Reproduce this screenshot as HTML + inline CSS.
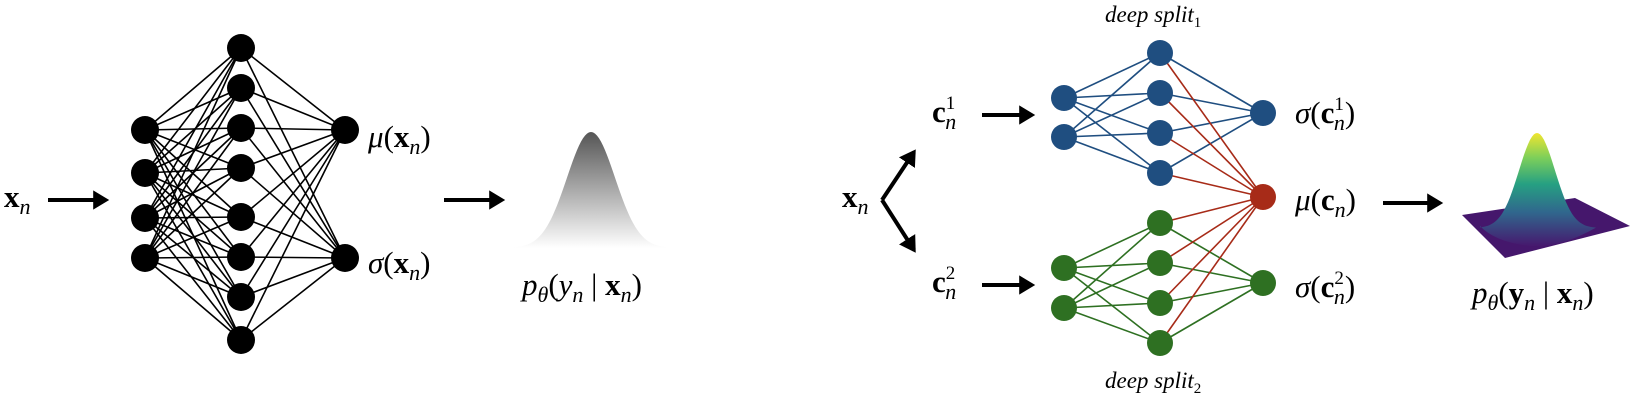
<!DOCTYPE html>
<html><head><meta charset="utf-8"><style>
body{margin:0;background:#fff}
svg{display:block}
text,tspan{font-family:"Liberation Serif","DejaVu Serif",serif}
text{fill:#000}
.it{font-style:italic}.b{font-weight:bold;font-style:normal}
</style></head><body>
<svg id="fig" width="1631" height="402" viewBox="0 0 1631 402" xmlns="http://www.w3.org/2000/svg" font-family="Liberation Serif, DejaVu Serif, serif">
<defs>
<marker id="ah" markerWidth="6" markerHeight="6" refX="3.2" refY="3" orient="auto" markerUnits="strokeWidth"><path d="M0,0.6 L4,3 L0,5.4 z" fill="#000"/></marker>
<linearGradient id="gg" x1="0" y1="0" x2="0" y2="1"><stop offset="0" stop-color="#555"/><stop offset="1" stop-color="#fff"/></linearGradient>
<linearGradient id="vg" x1="0" y1="0" x2="0" y2="1"><stop offset="0" stop-color="#f0e530"/><stop offset="0.22" stop-color="#7ccf5a"/><stop offset="0.45" stop-color="#26a082"/><stop offset="0.7" stop-color="#30678d"/><stop offset="1" stop-color="#46186e"/></linearGradient>
</defs>
<g id="edges"></g>
<g id="nodes"></g>
<text x="4" y="207" font-size="31"><tspan class="b">x</tspan><tspan class="it" font-size="22" dy="7">n</tspan></text>
<line x1="48" y1="200" x2="106" y2="200" stroke="#000" stroke-width="4" marker-end="url(#ah)"/>
<text x="368" y="147" font-size="31"><tspan class="it">μ</tspan>(<tspan class="b">x</tspan><tspan class="it" font-size="22" dy="7">n</tspan><tspan dy="-7">)</tspan></text>
<text x="368" y="273" font-size="31"><tspan class="it">σ</tspan>(<tspan class="b">x</tspan><tspan class="it" font-size="22" dy="7">n</tspan><tspan dy="-7">)</tspan></text>
<line x1="444" y1="200" x2="502" y2="200" stroke="#000" stroke-width="4" marker-end="url(#ah)"/>
<path id="gauss" fill="url(#gg)"/>
<text x="522" y="295" font-size="31"><tspan class="it">p</tspan><tspan class="it" font-size="22" dy="7">θ</tspan><tspan dy="-7">(</tspan><tspan class="it">y</tspan><tspan class="it" font-size="22" dy="7">n</tspan><tspan dy="-7"> | </tspan><tspan class="b">x</tspan><tspan class="it" font-size="22" dy="7">n</tspan><tspan dy="-7">)</tspan></text>
<text x="1105" y="22" font-size="23" class="it">deep split<tspan font-size="15" dy="5" font-style="normal">1</tspan></text>
<text x="1105" y="388" font-size="23" class="it">deep split<tspan font-size="15" dy="5" font-style="normal">2</tspan></text>
<text x="842" y="207" font-size="31"><tspan class="b">x</tspan><tspan class="it" font-size="22" dy="7">n</tspan></text>
<line x1="882" y1="200" x2="914" y2="152" stroke="#000" stroke-width="4" marker-end="url(#ah)"/>
<line x1="882" y1="200" x2="914" y2="250" stroke="#000" stroke-width="4" marker-end="url(#ah)"/>
<text x="932" y="122" font-size="31"><tspan class="b">c</tspan><tspan font-size="19" dy="-13">1</tspan><tspan class="it" font-size="22" dx="-10" dy="20">n</tspan></text>
<text x="932" y="292" font-size="31"><tspan class="b">c</tspan><tspan font-size="19" dy="-13">2</tspan><tspan class="it" font-size="22" dx="-10" dy="20">n</tspan></text>
<line x1="982" y1="115" x2="1032" y2="115" stroke="#000" stroke-width="4" marker-end="url(#ah)"/>
<line x1="982" y1="285" x2="1032" y2="285" stroke="#000" stroke-width="4" marker-end="url(#ah)"/>
<text x="1295" y="123" font-size="31"><tspan class="it">σ</tspan>(<tspan class="b">c</tspan><tspan font-size="19" dy="-13">1</tspan><tspan class="it" font-size="22" dx="-10" dy="20">n</tspan><tspan dy="-7">)</tspan></text>
<text x="1295" y="210" font-size="31"><tspan class="it">μ</tspan>(<tspan class="b">c</tspan><tspan class="it" font-size="22" dy="7">n</tspan><tspan dy="-7">)</tspan></text>
<text x="1295" y="297" font-size="31"><tspan class="it">σ</tspan>(<tspan class="b">c</tspan><tspan font-size="19" dy="-13">2</tspan><tspan class="it" font-size="22" dx="-10" dy="20">n</tspan><tspan dy="-7">)</tspan></text>
<line x1="1383" y1="203" x2="1440" y2="203" stroke="#000" stroke-width="4" marker-end="url(#ah)"/>
<polygon points="1462,215 1575,198 1630,226 1505,258" fill="#45176c"/>
<path id="surf" fill="url(#vg)"/>
<text x="1472" y="303" font-size="31"><tspan class="it">p</tspan><tspan class="it" font-size="22" dy="7">θ</tspan><tspan dy="-7">(</tspan><tspan class="b">y</tspan><tspan class="it" font-size="22" dy="7">n</tspan><tspan dy="-7"> | </tspan><tspan class="b">x</tspan><tspan class="it" font-size="22" dy="7">n</tspan><tspan dy="-7">)</tspan></text>
</svg>
<script>
// layer sizes (data)
const leftLayers = [4, 8, 2];
const blueLayers = [2, 4, 1];
const greenLayers = [2, 4, 1];
const NS = "http://www.w3.org/2000/svg";
const E = document.getElementById('edges'), N = document.getElementById('nodes');
function line(a, b, c, w, name) {
  const l = document.createElementNS(NS, 'line');
  l.setAttribute('x1', a[0]); l.setAttribute('y1', a[1]); l.setAttribute('x2', b[0]); l.setAttribute('y2', b[1]);
  l.setAttribute('stroke', c); l.setAttribute('stroke-width', w);
  
  
  E.appendChild(l);
}
function node(p, c, r, name) {
  const e = document.createElementNS(NS, 'ellipse');
  e.setAttribute('cx', p[0]); e.setAttribute('cy', p[1]); e.setAttribute('rx', r); e.setAttribute('ry', r); e.setAttribute('fill', c);
  
  
  N.appendChild(e);
}
function layer(n, x, top, step) { const a = []; for (let i = 0; i < n; i++) a.push([x, top + i * step]); return a; }
const L0 = [[145,130],[145,173],[145,218],[145,258]].slice(0, leftLayers[0]);
const L1 = [[241,48],[241,88],[241,128],[241,168],[241,217],[241,257],[241,297],[241,340]].slice(0, leftLayers[1]);
const L2 = [[345,130],[345,258]].slice(0, leftLayers[2]);
L0.forEach(a => L1.forEach(b => line(a, b, '#000', 1.6, 'left-edge')));
L1.forEach(a => L2.forEach(b => line(a, b, '#000', 1.6, 'left-edge')));
[L0, L1, L2].forEach(L => L.forEach(p => node(p, '#000', 14, 'left-neuron')));
const blue = '#1f4e80', green = '#2e7022', red = '#a72b18';
const B0 = layer(blueLayers[0], 1064, 98, 39), B1 = layer(blueLayers[1], 1160, 53, 40), B2 = [[1263, 113]];
const G0 = layer(greenLayers[0], 1064, 268, 40), G1 = layer(greenLayers[1], 1160, 223, 40), G2 = [[1263, 283]];
const R = [1263, 197];
B0.forEach(a => B1.forEach(b => line(a, b, blue, 1.6, 'blue-edge')));
B1.forEach(a => line(a, B2[0], blue, 1.6, 'blue-edge'));
G0.forEach(a => G1.forEach(b => line(a, b, green, 1.6, 'green-edge')));
G1.forEach(a => line(a, G2[0], green, 1.6, 'green-edge'));
B1.concat(G1).forEach(a => line(a, R, red, 1.6, 'red-edge'));
B0.concat(B1, B2).forEach(p => node(p, blue, 13, 'blue-neuron'));
G0.concat(G1, G2).forEach(p => node(p, green, 13, 'green-neuron'));
node(R, red, 13, 'mu-neuron');
(function(){
  let d = 'M505,248 ';
  for (let x = 505; x <= 677; x += 2) { const z = (x - 591) / 24; d += 'L' + x + ',' + (248 - 116 * Math.exp(-z * z / 2)).toFixed(1) + ' '; }
  document.getElementById('gauss').setAttribute('d', d + 'Z');
  let s = 'M1480,226 ';
  for (let x = 1480; x <= 1596; x += 2) { const z = (x - 1537) / 18; s += 'L' + x + ',' + (228 - 95 * Math.exp(-z * z / 2)).toFixed(1) + ' '; }
  s += 'Q1560,248 1530,246 Q1495,242 1480,226 Z';
  document.getElementById('surf').setAttribute('d', s);
})();
</script>
</body></html>
